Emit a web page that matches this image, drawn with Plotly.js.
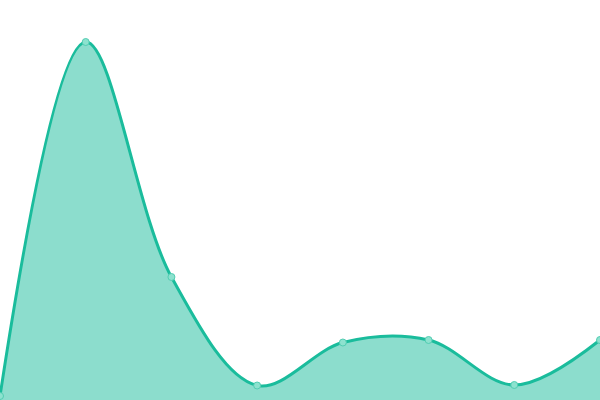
<!DOCTYPE html>
<html>
<head>
<meta charset="utf-8">
<script src="https://cdn.plot.ly/plotly-3.0.1.min.js"></script>
<style>html,body{margin:0;padding:0;background:#fff;}#chart{width:600px;height:400px;}</style>
</head>
<body>
<div id="chart"></div>
<script>
var xValues = [0, 1, 2, 3, 4, 5, 6, 7];
var yValues = [4, 358, 123, 14.5, 57.5, 60, 15, 60];

var trace = {
  x: xValues,
  y: yValues,
  type: 'scatter',
  mode: 'lines+markers',
  fill: 'tozeroy',
  fillcolor: 'rgba(26,188,156,0.5)',
  line: {shape: 'spline', smoothing: 1, color: '#1abc9c', width: 3},
  marker: {size: 7, color: '#8de2cf', line: {color: '#52cdb2', width: 1}},
  cliponaxis: false,
  hoverinfo: 'none'
};

var layout = {
  width: 600,
  height: 400,
  margin: {l: 0, r: 0, t: 0, b: 0, pad: 0},
  paper_bgcolor: '#ffffff',
  plot_bgcolor: '#ffffff',
  showlegend: false,
  xaxis: {range: [0, 7], visible: false, fixedrange: true},
  yaxis: {range: [0, 400], visible: false, fixedrange: true}
};

Plotly.newPlot('chart', [trace], layout, {displayModeBar: false, staticPlot: true});
</script>
</body>
</html>
